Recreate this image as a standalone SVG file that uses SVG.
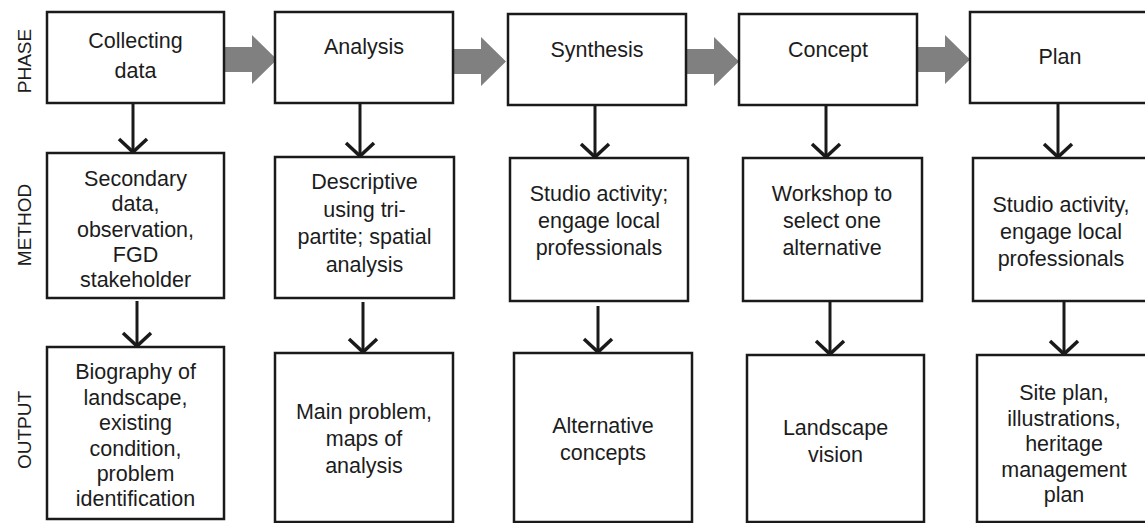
<svg xmlns="http://www.w3.org/2000/svg" width="1145" height="523" viewBox="0 0 1145 523">
  <style>
    .box { fill: #ffffff; stroke: #1a1a1a; stroke-width: 2.5; }
    .txt { font-family: "Liberation Sans", Arial, sans-serif; font-size: 21.5px; fill: #1c1c1c; text-anchor: middle; }
    .side { font-family: "Liberation Sans", Arial, sans-serif; font-size: 19px; fill: #1c1c1c; text-anchor: middle; }
    .flow { fill: #808080; }
    .down { stroke: #1a1a1a; stroke-width: 3; fill: none; marker-end: url(#chev); }
  </style>
  <defs>
    <!-- open V arrowhead for the vertical links -->
    <marker id="chev" markerUnits="userSpaceOnUse" viewBox="-18 -18 22 36" markerWidth="22" markerHeight="36" refX="0" refY="0" orient="auto" overflow="visible">
      <path d="M-13,-14 L0,0 L-13,14" fill="none" stroke="#1a1a1a" stroke-width="3.5" stroke-linejoin="miter"/>
    </marker>
    <!-- thick grey block arrow between phases -->
    <path id="blockArrow" d="M0,-12.5 H28 V-24.5 L53,0 L28,24.5 V12.5 H0 Z"/>
  </defs>

  <rect width="1145" height="523" fill="#ffffff"/>

  <!-- row captions -->
  <g id="row-labels">
    <text class="side" transform="translate(31,61) rotate(-90)">PHASE</text>
    <text class="side" transform="translate(31,225) rotate(-90)">METHOD</text>
    <text class="side" transform="translate(31,430) rotate(-90)">OUTPUT</text>
  </g>

  <!-- connectors -->
  <g id="connectors">
    <use href="#blockArrow" class="flow" x="224" y="59.5"/>
    <use href="#blockArrow" class="flow" x="453" y="61.5"/>
    <use href="#blockArrow" class="flow" x="686" y="61.5"/>
    <use href="#blockArrow" class="flow" x="917" y="59.5"/>

    <line class="down" x1="133" y1="104" x2="133" y2="152"/>
    <line class="down" x1="360" y1="104" x2="360" y2="156"/>
    <line class="down" x1="595" y1="106" x2="595" y2="157"/>
    <line class="down" x1="826" y1="106" x2="826" y2="157"/>
    <line class="down" x1="1058" y1="104" x2="1058" y2="157"/>

    <line class="down" x1="137" y1="301" x2="137" y2="346"/>
    <line class="down" x1="363" y1="302" x2="363" y2="352"/>
    <line class="down" x1="598" y1="306" x2="598" y2="352"/>
    <line class="down" x1="830" y1="302" x2="830" y2="354"/>
    <line class="down" x1="1064" y1="302" x2="1064" y2="354"/>
  </g>

  <!-- phase row -->
  <g id="phase-collecting">
    <rect class="box" x="47" y="12" width="177" height="91"/>
    <text class="txt" x="135.5" y="48">Collecting</text>
    <text class="txt" x="135.5" y="78">data</text>
  </g>
  <g id="phase-analysis">
    <rect class="box" x="275" y="12" width="178" height="91"/>
    <text class="txt" x="364" y="54">Analysis</text>
  </g>
  <g id="phase-synthesis">
    <rect class="box" x="508" y="14" width="178" height="91"/>
    <text class="txt" x="597" y="57">Synthesis</text>
  </g>
  <g id="phase-concept">
    <rect class="box" x="739" y="14" width="178" height="91"/>
    <text class="txt" x="828" y="57">Concept</text>
  </g>
  <g id="phase-plan">
    <rect class="box" x="970" y="12" width="178" height="91"/>
    <text class="txt" x="1060" y="64">Plan</text>
  </g>

  <!-- method row -->
  <g id="method-collecting">
    <rect class="box" x="47" y="153" width="177" height="145"/>
    <text class="txt" x="135.5" y="186">Secondary</text>
    <text class="txt" x="135.5" y="211">data,</text>
    <text class="txt" x="135.5" y="236.5">observation,</text>
    <text class="txt" x="135.5" y="261.5">FGD</text>
    <text class="txt" x="135.5" y="287">stakeholder</text>
  </g>
  <g id="method-analysis">
    <rect class="box" x="275" y="157" width="179" height="141"/>
    <text class="txt" x="364.5" y="189">Descriptive</text>
    <text class="txt" x="364.5" y="216.5">using tri-</text>
    <text class="txt" x="364.5" y="244">partite; spatial</text>
    <text class="txt" x="364.5" y="271.5">analysis</text>
  </g>
  <g id="method-synthesis">
    <rect class="box" x="510" y="158" width="178" height="143"/>
    <text class="txt" x="599" y="201">Studio activity;</text>
    <text class="txt" x="599" y="228">engage local</text>
    <text class="txt" x="599" y="255">professionals</text>
  </g>
  <g id="method-concept">
    <rect class="box" x="743" y="158" width="179" height="143"/>
    <text class="txt" x="832" y="201">Workshop to</text>
    <text class="txt" x="832" y="228">select one</text>
    <text class="txt" x="832" y="255">alternative</text>
  </g>
  <g id="method-plan">
    <rect class="box" x="973" y="158" width="175" height="143"/>
    <text class="txt" x="1061" y="212">Studio activity,</text>
    <text class="txt" x="1061" y="239">engage local</text>
    <text class="txt" x="1061" y="266">professionals</text>
  </g>

  <!-- output row -->
  <g id="output-collecting">
    <rect class="box" x="47" y="347" width="177" height="172"/>
    <text class="txt" x="135.5" y="379">Biography of</text>
    <text class="txt" x="135.5" y="404.5">landscape,</text>
    <text class="txt" x="135.5" y="430">existing</text>
    <text class="txt" x="135.5" y="455.5">condition,</text>
    <text class="txt" x="135.5" y="480.5">problem</text>
    <text class="txt" x="135.5" y="506">identification</text>
  </g>
  <g id="output-analysis">
    <rect class="box" x="275" y="353" width="178" height="169"/>
    <text class="txt" x="364" y="419">Main problem,</text>
    <text class="txt" x="364" y="446">maps of</text>
    <text class="txt" x="364" y="473">analysis</text>
  </g>
  <g id="output-synthesis">
    <rect class="box" x="514" y="353" width="178" height="169"/>
    <text class="txt" x="603" y="433">Alternative</text>
    <text class="txt" x="603" y="459.5">concepts</text>
  </g>
  <g id="output-concept">
    <rect class="box" x="747" y="355" width="177" height="167"/>
    <text class="txt" x="835.5" y="435">Landscape</text>
    <text class="txt" x="835.5" y="462">vision</text>
  </g>
  <g id="output-plan">
    <rect class="box" x="977" y="355" width="171" height="167"/>
    <text class="txt" x="1064" y="400">Site plan,</text>
    <text class="txt" x="1064" y="425.5">illustrations,</text>
    <text class="txt" x="1064" y="451">heritage</text>
    <text class="txt" x="1064" y="476.5">management</text>
    <text class="txt" x="1064" y="502">plan</text>
  </g>
</svg>
